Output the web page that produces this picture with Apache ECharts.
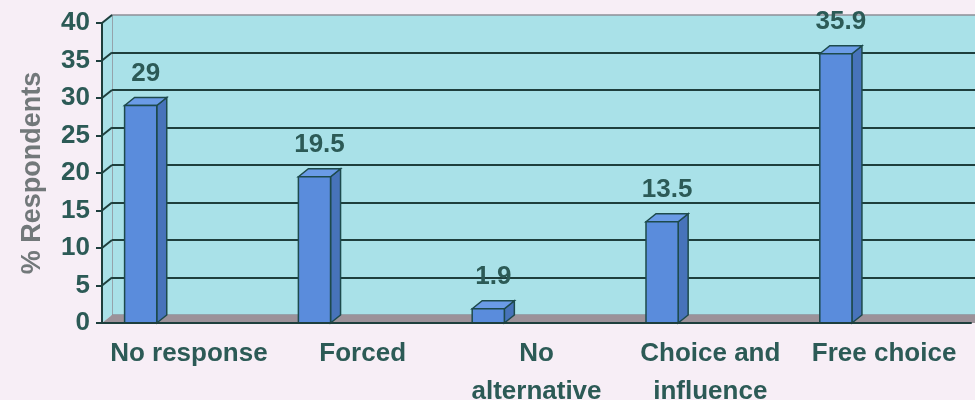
<!DOCTYPE html>
<html>
<head>
<meta charset="utf-8">
<script src="https://cdn.jsdelivr.net/npm/echarts@6/dist/echarts.min.js"></script>
<style>
    html, body { margin: 0; padding: 0; background: #f7eef6; }
    #chart { width: 975px; height: 400px; }
</style>
</head>
<body>
<div id="chart"></div>
<script>
// data
var categories = ['No response', 'Forced', 'No\nalternative', 'Choice and\ninfluence', 'Free choice'];
var values = [29, 19.5, 1.9, 13.5, 35.9];
var yTicks = [0, 5, 10, 15, 20, 25, 30, 35, 40];

var textColor = '#2c5a56';
var lineColor = '#1e3f3d';
var fontFamily = '"Liberation Sans", Arial, sans-serif';
var depthX = 10, depthY = 8; // 3d depth of the walls / bars

var myChart = echarts.init(document.getElementById('chart'));

// back wall: split lines hidden at 0 (floor) and 40 (wall top edge)
var splitColors = yTicks.map(function (v, i) {
    return (i === 0 || i === yTicks.length - 1) ? 'rgba(0,0,0,0)' : lineColor;
});

function renderWalls(params, api) {
    var v = api.value(0);
    var band = api.size([1, 0])[0];
    var left = api.coord([0, v])[0] - band / 2;
    var p = api.coord([0, v]);
    var children = [];
    if (params.dataIndex === 0) {
        var top = api.coord([0, yTicks[yTicks.length - 1]])[1];
        var right = api.coord([categories.length - 1, 0])[0] + band / 2;
        // side wall
        children.push({
            type: 'polygon',
            shape: {points: [[left, top], [left + depthX, top - depthY], [left + depthX, p[1] - depthY], [left, p[1]]]},
            style: {fill: '#a9e1e8'}
        });
        // floor
        children.push({
            type: 'polygon',
            shape: {points: [[left, p[1]], [left + depthX, p[1] - depthY], [right + 40, p[1] - depthY], [right + 40, p[1]]]},
            style: {fill: '#9c9299'}
        });
    }
    if (params.dataIndex > 0) {
        children.push({
            type: 'line',
            shape: {x1: left, y1: p[1], x2: left + depthX, y2: p[1] - depthY},
            style: {stroke: lineColor, lineWidth: 2}
        });
    }
    return {type: 'group', children: children};
}

function renderBar(params, api) {
    var idx = api.value(0);
    var val = api.value(1);
    var p = api.coord([idx, val]);
    var base = api.coord([idx, 0]);
    var band = api.size([1, 0])[0];
    var x0 = p[0] - band / 2 + band * 0.13;
    var w = band * 0.185;
    var stroke = {stroke: '#1d4a4c', lineWidth: 1.5};
    return {
        type: 'group',
        children: [
            {
                type: 'polygon',
                shape: {points: [[x0 + w, p[1]], [x0 + w + depthX, p[1] - depthY], [x0 + w + depthX, base[1] - depthY], [x0 + w, base[1]]]},
                style: Object.assign({fill: '#4773ba'}, stroke)
            },
            {
                type: 'polygon',
                shape: {points: [[x0, p[1]], [x0 + depthX, p[1] - depthY], [x0 + w + depthX, p[1] - depthY], [x0 + w, p[1]]]},
                style: Object.assign({fill: '#6a9be6'}, stroke)
            },
            {
                type: 'rect',
                shape: {x: x0, y: p[1], width: w, height: base[1] - p[1]},
                style: Object.assign({fill: '#5a8cdc'}, stroke)
            },
            {
                type: 'text',
                x: x0 + w / 2 + depthX / 2,
                y: p[1] - depthY - 24,
                style: {
                    text: String(val),
                    fill: textColor,
                    font: 'bold 26px ' + fontFamily,
                    align: 'center',
                    verticalAlign: 'middle'
                }
            }
        ]
    };
}

var option = {
    backgroundColor: '#f7eef6',
    grid: [
        {left: 102, right: 4, top: 23, bottom: 77, outerBoundsMode: 'none'},
        {
            left: 102 + depthX, right: -40, top: 23 - depthY, bottom: 77 + depthY, outerBoundsMode: 'none',
            show: true, backgroundColor: '#a9e1e8', borderColor: '#8f8f96', borderWidth: 1.5
        }
    ],
    xAxis: [
        {
            type: 'category',
            gridIndex: 0,
            data: categories,
            z: 5,
            axisLine: {lineStyle: {color: lineColor, width: 2}},
            axisTick: {length: 6, lineStyle: {color: lineColor, width: 2}},
            axisLabel: {
                interval: 0,
                margin: 12,
                color: textColor,
                fontSize: 26,
                fontWeight: 'bold',
                fontFamily: fontFamily,
                lineHeight: 38
            }
        },
        {type: 'category', gridIndex: 1, data: categories, show: false}
    ],
    yAxis: [
        {
            type: 'value',
            gridIndex: 0,
            min: 0,
            max: 40,
            interval: 5,
            z: 5,
            name: '% Respondents',
            nameLocation: 'middle',
            nameGap: 56,
            nameTextStyle: {
                color: '#72787a',
                fontSize: 27,
                fontWeight: 'bold',
                fontFamily: fontFamily
            },
            axisLine: {show: true, lineStyle: {color: lineColor, width: 2}},
            axisTick: {show: true, length: 6, lineStyle: {color: lineColor, width: 2}},
            axisLabel: {
                margin: 12,
                color: textColor,
                fontSize: 26,
                fontWeight: 'bold',
                fontFamily: fontFamily
            },
            splitLine: {show: false}
        },
        {
            type: 'value',
            gridIndex: 1,
            min: 0,
            max: 40,
            interval: 5,
            axisLine: {show: false},
            axisTick: {show: false},
            axisLabel: {show: false},
            splitLine: {show: true, lineStyle: {color: splitColors, width: 2}}
        }
    ],
    series: [
        {
            type: 'custom',
            xAxisIndex: 0,
            yAxisIndex: 0,
            z: 2,
            silent: true,
            renderItem: renderWalls,
            data: yTicks.map(function (v) { return [v]; })
        },
        {
            type: 'custom',
            xAxisIndex: 0,
            yAxisIndex: 0,
            z: 3,
            renderItem: renderBar,
            data: values.map(function (v, i) { return [i, v]; })
        }
    ]
};
myChart.setOption(option);
</script>
</body>
</html>
